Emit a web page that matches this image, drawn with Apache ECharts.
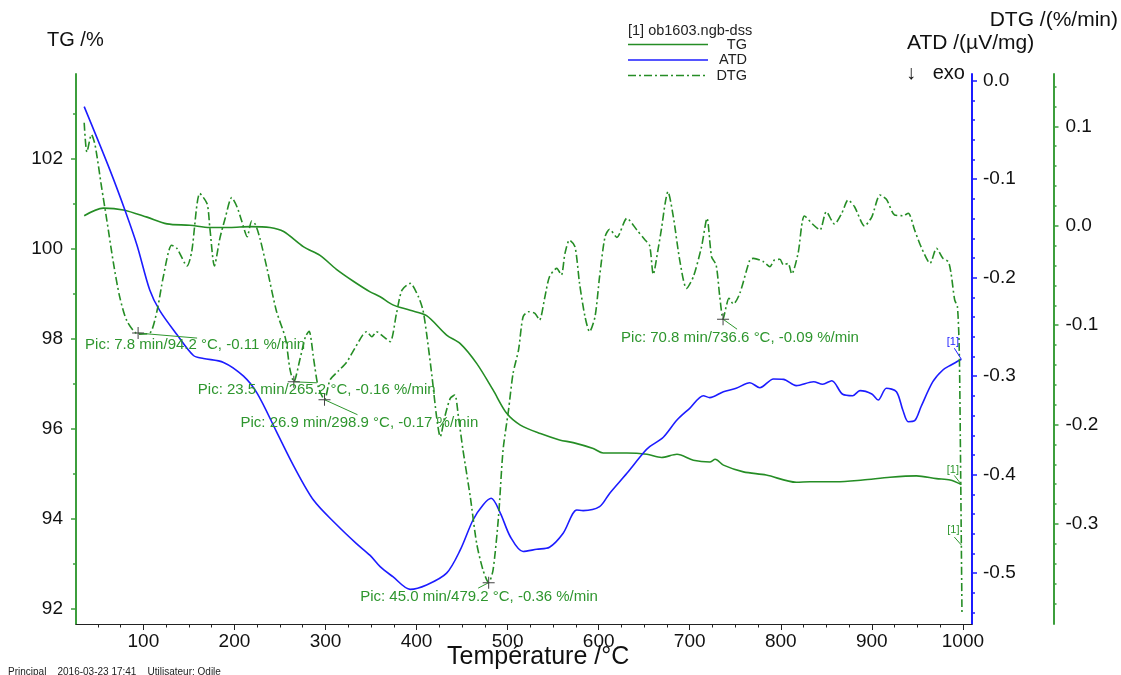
<!DOCTYPE html>
<html><head><meta charset="utf-8">
<script src="https://cdn.jsdelivr.net/npm/echarts@6/dist/echarts.min.js"></script>
<style>html,body{margin:0;padding:0;background:#fff}#c{width:1121px;height:675px}</style>
</head><body><div id="c"></div>
<script>
// ---------------- data ----------------
const tgT = [35,56,78,104,126,151,173,195,217,239,254,276,294,312,331,349,360,374,393,411,433,448,466,484,499,514,536,557,572,594,605,631,653,669,686,704,722,728,737,759,784,817,832,861,890,920,949,971,986,998.3];
const tgV = [100.74,100.91,100.87,100.71,100.56,100.53,100.48,100.48,100.50,100.48,100.39,100.05,99.86,99.55,99.28,99.05,98.94,98.76,98.64,98.52,98.09,97.90,97.46,96.87,96.35,96.09,95.90,95.76,95.70,95.57,95.47,95.47,95.44,95.37,95.44,95.31,95.27,95.33,95.20,95.05,94.98,94.82,94.83,94.83,94.87,94.93,94.96,94.90,94.87,94.77];

const atdT = [35,63,80,93,107,118,137,155,166,188,210,225,246,265,287,312,334,349,360,374,393,411,433,448,462,473,482,492,503,517,532,546,561,576,583,601,612,631,649,656,671,686,700,715,722,737,751,766,777,792,803,817,836,846,856,868,879,887,900,907,916,927,934,940,947,954,967,978,987,998.3];
const atdV = [-0.0263,-0.090,-0.132,-0.167,-0.2125,-0.2335,-0.258,-0.279,-0.282,-0.286,-0.300,-0.3175,-0.356,-0.391,-0.426,-0.4506,-0.470,-0.482,-0.4934,-0.5036,-0.5164,-0.512,-0.500,-0.4764,-0.446,-0.4307,-0.424,-0.439,-0.463,-0.478,-0.4757,-0.4737,-0.4595,-0.4358,-0.4365,-0.4325,-0.419,-0.3986,-0.378,-0.3716,-0.362,-0.3445,-0.3326,-0.3198,-0.3218,-0.3157,-0.3123,-0.3066,-0.3117,-0.3028,-0.3032,-0.3096,-0.3056,-0.3082,-0.3046,-0.3184,-0.3198,-0.3147,-0.3181,-0.3242,-0.3123,-0.3157,-0.3343,-0.3462,-0.3452,-0.331,-0.3056,-0.2937,-0.2886,-0.2828];

const dtgT = [35,38,43,47,54,60,67,74,82,94.5,107,115,122,131,137,148,153,162,170,173,178,184,190,197,203,208,214,219,223,228,236,246,256,261,265.2,272,278,282,287,292,298.9,305,314,323,332,341,345,351,356,364,371,378,384,393,402,407,411,417,422,426,431,437,442,446,451,459,466,473,479.2,484,490,495,501,506,512,517,523,530,535,541,546,554,559,563,568,574,579,585,590,596,601,607,612,620,631,642,651,656,660,665,669,673,676,682,689,696.5,704,713,719,724,729,733,736.6,740,743,748,755,766,770,781,788,793,799,803,808,812,819,826,836,843,850,859,867,874,881,892,900,909,916,925,934,940,947,954,964,971,978,984,987,991,994,996,997.3,998.3,999];
const dtgV = [0.1035,0.0741,0.0915,0.081,0.0393,0.0047,-0.0369,-0.0716,-0.0959,-0.109,-0.108,-0.0855,-0.0508,-0.0196,-0.023,-0.0404,-0.0265,0.0325,0.022,-0.0022,-0.0404,-0.0127,0.0081,0.0283,0.0186,0.0047,-0.011,0.0047,0.0012,-0.0127,-0.0439,-0.0855,-0.1133,-0.1445,-0.157,-0.1341,-0.1116,-0.1063,-0.1341,-0.1619,-0.175,-0.155,-0.1462,-0.1375,-0.1236,-0.1098,-0.1066,-0.1117,-0.1066,-0.1117,-0.1167,-0.0881,-0.0647,-0.058,-0.0714,-0.0848,-0.1083,-0.1519,-0.1922,-0.2123,-0.1922,-0.1737,-0.1703,-0.1922,-0.2257,-0.2726,-0.3195,-0.3464,-0.359,-0.3464,-0.2928,-0.2257,-0.1854,-0.1485,-0.125,-0.0915,-0.0865,-0.0881,-0.0949,-0.0714,-0.0513,-0.0429,-0.0496,-0.0278,-0.0144,-0.0211,-0.058,-0.0915,-0.1066,-0.0915,-0.0513,-0.011,-0.0036,-0.0117,0.0074,-0.0043,-0.0144,-0.020,-0.049,-0.025,-0.003,0.0225,0.0342,0.009,-0.0345,-0.063,-0.0513,-0.0211,0.0074,-0.0312,-0.0395,-0.0714,-0.094,-0.0815,-0.073,-0.0788,-0.068,-0.0345,-0.0328,-0.0362,-0.0412,-0.0345,-0.0338,-0.0395,-0.0378,-0.0486,-0.0278,0.0098,0.0007,-0.0043,0.0141,0.0017,0.0125,0.0259,0.0191,-0.0003,0.009,0.0309,0.0266,0.0108,0.0101,0.0125,-0.0043,-0.0211,-0.0378,-0.0227,-0.0328,-0.0362,-0.0479,-0.0747,-0.0815,-0.125,-0.2257,-0.3212,-0.39];

// peak annotations: temperature, DTG value, text
const peakT = [94.2, 265.2, 298.9, 479.2, 736.6];
const peakV = [-0.108, -0.157, -0.175, -0.359, -0.094];
const peakText = [
  'Pic: 7.8 min/94.2 °C, -0.11 %/min',
  'Pic: 23.5 min/265.2 °C, -0.16 %/min',
  'Pic: 26.9 min/298.9 °C, -0.17 %/min',
  'Pic: 45.0 min/479.2 °C, -0.36 %/min',
  'Pic: 70.8 min/736.6 °C, -0.09 %/min'
];
const xMajor = [100,200,300,400,500,600,700,800,900,1000];
const tgMajor = [92,94,96,98,100,102];
const atdMajor = [0,-0.1,-0.2,-0.3,-0.4,-0.5];
const dtgMajor = [0.1,0,-0.1,-0.2,-0.3];

// ---------------- layout / style ----------------
const FONT = "'Liberation Sans', Arial, sans-serif";
const GREEN_AX = '#3c9e3c', GREEN = '#258d25', GREEN_TXT = '#2e962e', BLUE = '#1c1cff';
const X0 = 26, X1 = 1010;
const TG_R = [91.67, 103.89], ATD_R = [-0.5516, 0.0068], DTG_R = [-0.4006, 0.1526];
const G = {left: 76, right: 149, top: 74, bottom: 51};
const GW = 1121 - G.left - G.right, GH = 675 - G.top - G.bottom;

function zip(a, b) { return a.map((t, i) => [t, b[i]]); }
function shift(p, dx, dy, r) {
  return [p[0] + dx * (X1 - X0) / GW, p[1] - dy * (r[1] - r[0]) / GH];
}
const xMinor = []; for (let v = 50; v <= 1000; v += 25) if (v % 100) xMinor.push(v);
const tgMinor = [93,95,97,99,101,103];
const atdMinor = []; for (let i = -27; i <= 0; i++) if (i % 5) atdMinor.push(+(i * 0.02).toFixed(2));
const dtgMinor = []; for (let i = -19; i <= 7; i++) if (i % 5) dtgMinor.push(+(i * 0.02).toFixed(2));
const fmt1 = v => Math.abs(v) < 1e-9 ? '0.0' : v.toFixed(1);

const labOff = [[-53, 12], [-96, 8], [-84, 23], [-128.5, 14.5], [-102, 19]];
const leadOff = [[59, 5], [23, 1], [33, 15], [-10.5, 5.5], [14, 10]];

// legend icons (80 x 14 box)
const solidIcon = 'path://M0,0M80,14M0,6.3h80v1.4h-80z';
let dd = 'path://M0,0M80,14';
for (let k = 0; k < 5; k++) { const s = 16 * k; dd += 'M' + s + ',6.3h8v1.4h-8z M' + (s + 11) + ',6.3h2v1.4h-2z'; }
const dashDotIcon = dd;

function axisBase(extra) {
  return Object.assign({splitLine: {show: false}, axisLabel: {show: false}}, extra);
}

const option = {
  animation: false,
  backgroundColor: '#fff',
  grid: {left: G.left, right: G.right, top: G.top, bottom: G.bottom},
  title: [
    {text: 'TG /%', left: 47, top: 30, padding: 0, textStyle: {fontFamily: FONT, fontSize: 20, fontWeight: 'normal', color: '#111'}},
    {text: 'DTG /(%/min)', right: 3, top: 10, padding: 0, textStyle: {fontFamily: FONT, fontSize: 21, fontWeight: 'normal', color: '#111'}},
    {text: 'ATD /(µV/mg)', left: 907, top: 33, padding: 0, textStyle: {fontFamily: FONT, fontSize: 21, fontWeight: 'normal', color: '#111'}},
    {text: '↓   exo', left: 906, top: 63, padding: 0, textStyle: {fontFamily: FONT, fontSize: 20, fontWeight: 'normal', color: '#111'}},
    {text: '[1] ob1603.ngb-dss', left: 628, top: 23, padding: 0, textStyle: {fontFamily: FONT, fontSize: 14.5, fontWeight: 'normal', color: '#222'}},
    {text: 'Température /°C', left: 447, top: 645, padding: 0, textStyle: {fontFamily: FONT, fontSize: 25, fontWeight: 'normal', color: '#111'}},
    {text: 'Principal    2016-03-23 17:41    Utilisateur: Odile', left: 8, top: 667, padding: 0, textStyle: {fontFamily: FONT, fontSize: 10, fontWeight: 'normal', color: '#222'}}
  ],
  legend: {
    orient: 'vertical', left: 628, top: 37, padding: 0,
    itemWidth: 80, itemHeight: 14, itemGap: 0.5,
    selectedMode: false,
    data: [{name: 'TG', icon: solidIcon}, {name: 'ATD', icon: solidIcon}, {name: 'DTG', icon: dashDotIcon}],
    formatter: n => '{r|' + n + '}',
    textStyle: {fontFamily: FONT, fontSize: 14.5, color: '#222', lineHeight: 14,
      rich: {r: {width: 34, align: 'right', fontFamily: FONT, fontSize: 14.5, lineHeight: 14, color: '#222'}}}
  },
  xAxis: [
    {type: 'value', min: X0, max: X1, position: 'bottom',
     axisLine: {onZero: false, lineStyle: {color: '#222', width: 1}},
     axisTick: {customValues: xMajor, length: 6, lineStyle: {color: '#222'}},
     axisLabel: {customValues: xMajor, formatter: v => String(Math.round(v)), fontFamily: FONT, fontSize: 19, color: '#111', margin: 8},
     splitLine: {show: false}},
    axisBase({type: 'value', min: X0, max: X1, position: 'bottom', axisLine: {show: false, onZero: false},
     axisTick: {customValues: xMinor, length: 3.5, lineStyle: {color: '#222'}}})
  ],
  yAxis: [
    {type: 'value', min: TG_R[0], max: TG_R[1], position: 'left',
     axisLine: {show: true, onZero: false, lineStyle: {color: GREEN_AX, width: 2}},
     axisTick: {show: true, customValues: tgMajor, length: 5, lineStyle: {color: GREEN_AX, width: 1.5}},
     axisLabel: {customValues: tgMajor, fontFamily: FONT, fontSize: 19, color: '#111', margin: 13},
     splitLine: {show: false}},
    axisBase({type: 'value', min: TG_R[0], max: TG_R[1], position: 'left', axisLine: {show: false, onZero: false},
     axisTick: {show: true, customValues: tgMinor, length: 3, lineStyle: {color: GREEN_AX, width: 1.5}}}),
    {type: 'value', min: ATD_R[0], max: ATD_R[1], position: 'right', offset: 0,
     axisLine: {show: true, onZero: false, lineStyle: {color: BLUE, width: 2}},
     axisTick: {show: true, customValues: atdMajor, length: 5, lineStyle: {color: BLUE, width: 1.5}},
     axisLabel: {customValues: atdMajor, formatter: fmt1, fontFamily: FONT, fontSize: 19, color: '#111', margin: 11},
     splitLine: {show: false}},
    axisBase({type: 'value', min: ATD_R[0], max: ATD_R[1], position: 'right', offset: 0, axisLine: {show: false, onZero: false},
     axisTick: {show: true, customValues: atdMinor, length: 3, lineStyle: {color: BLUE, width: 1.5}}}),
    {type: 'value', min: DTG_R[0], max: DTG_R[1], position: 'right', offset: 81.5,
     axisLine: {show: true, onZero: false, lineStyle: {color: GREEN_AX, width: 2}},
     axisTick: {show: true, customValues: dtgMajor, length: 5, lineStyle: {color: GREEN_AX, width: 1.5}},
     axisLabel: {customValues: dtgMajor, formatter: fmt1, fontFamily: FONT, fontSize: 19, color: '#111', margin: 12},
     splitLine: {show: false}},
    axisBase({type: 'value', min: DTG_R[0], max: DTG_R[1], position: 'right', offset: 81.5, axisLine: {show: false, onZero: false},
     axisTick: {show: true, customValues: dtgMinor, length: 3, lineStyle: {color: GREEN_AX, width: 1.5}}})
  ],
  series: [
    {name: 'TG', type: 'line', xAxisIndex: 0, yAxisIndex: 0, data: zip(tgT, tgV),
     showSymbol: false, symbol: 'none', smooth: 0.3, color: GREEN,
     lineStyle: {color: GREEN, width: 1.6},
     markPoint: {symbol: 'circle', symbolSize: 0, silent: true, data: [
       {coord: [tgT[tgT.length-1], tgV[tgV.length-1]], label: {show: true, formatter: '[1]', position: 'inside', offset: [-8.5, -15], color: GREEN_TXT, fontFamily: FONT, fontSize: 11}}
     ]},
     markLine: {symbol: 'none', silent: true, label: {show: false}, lineStyle: {color: GREEN_TXT, width: 1, type: 'solid'}, data: [
       [{coord: [tgT[tgT.length-1], tgV[tgV.length-1]]}, {coord: shift([tgT[tgT.length-1], tgV[tgV.length-1]], -7, -9, TG_R)}]
     ]}},
    {name: 'ATD', type: 'line', xAxisIndex: 0, yAxisIndex: 2, data: zip(atdT, atdV),
     showSymbol: false, symbol: 'none', smooth: 0.3, color: BLUE,
     lineStyle: {color: BLUE, width: 1.6},
     markPoint: {symbol: 'circle', symbolSize: 0, silent: true, data: [
       {coord: [atdT[atdT.length-1], atdV[atdV.length-1]], label: {show: true, formatter: '[1]', position: 'inside', offset: [-8.5, -17], color: BLUE, fontFamily: FONT, fontSize: 11}}
     ]},
     markLine: {symbol: 'none', silent: true, label: {show: false}, lineStyle: {color: BLUE, width: 1, type: 'solid'}, data: [
       [{coord: [atdT[atdT.length-1], atdV[atdV.length-1]]}, {coord: shift([atdT[atdT.length-1], atdV[atdV.length-1]], -7, -11, ATD_R)}]
     ]}},
    {name: 'DTG', type: 'line', xAxisIndex: 0, yAxisIndex: 4, data: zip(dtgT, dtgV),
     showSymbol: false, symbol: 'none', smooth: 0.25, color: GREEN,
     lineStyle: {color: GREEN, width: 1.6, type: [8, 3, 2, 3]},
     markPoint: {silent: true, data: peakT.map((t, i) => ({
         coord: [t, peakV[i]],
         symbol: 'path://M0,5.5h12v1h-12z M5.5,0h1v12h-1z', symbolSize: 12,
         itemStyle: {color: '#444'},
         label: {show: true, formatter: peakText[i], position: 'inside', align: 'left', verticalAlign: 'middle',
                 offset: labOff[i], color: GREEN_TXT, fontFamily: FONT, fontSize: 15}
       })).concat([
         {coord: [998.3, -0.3212], symbol: 'circle', symbolSize: 0,
          label: {show: true, formatter: '[1]', position: 'inside', offset: [-8, -15], color: GREEN_TXT, fontFamily: FONT, fontSize: 11}}
       ])},
     markLine: {symbol: 'none', silent: true, label: {show: false}, lineStyle: {color: GREEN_TXT, width: 1, type: 'solid'},
       data: peakT.map((t, i) => [{coord: [t, peakV[i]]}, {coord: shift([t, peakV[i]], leadOff[i][0], leadOff[i][1], DTG_R)}])
         .concat([[{coord: [998.3, -0.3212]}, {coord: shift([998.3, -0.3212], -7, -8, DTG_R)}]])
     }}
  ]
};

const chart = echarts.init(document.getElementById('c'), null, {renderer: 'canvas'});
chart.setOption(option);
</script>
</body></html>
